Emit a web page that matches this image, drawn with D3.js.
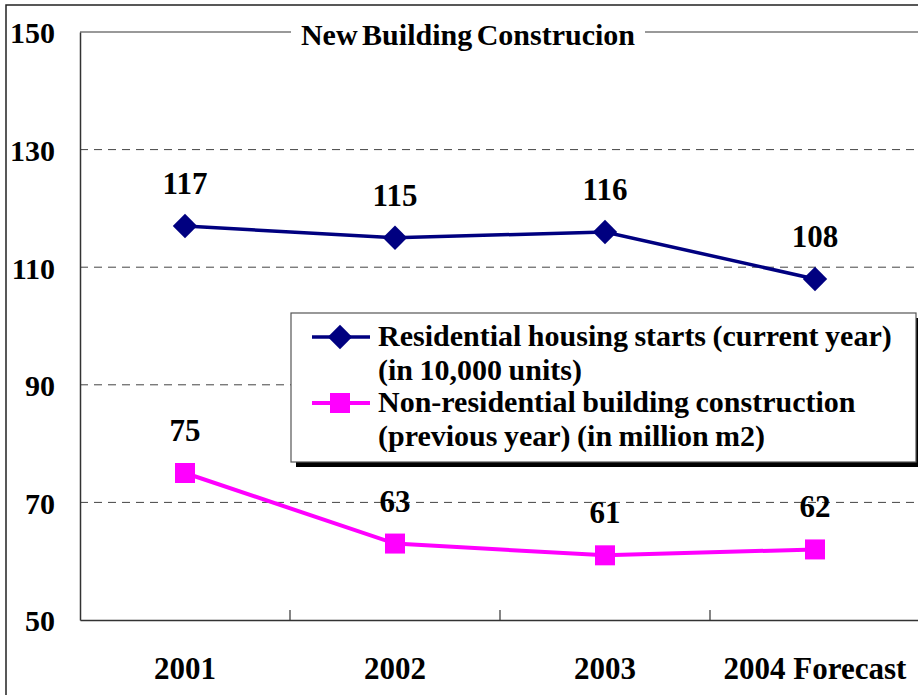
<!DOCTYPE html>
<html>
<head>
<meta charset="utf-8">
<script src="https://cdn.jsdelivr.net/npm/d3@7"></script>
<style>
  body { margin: 0; background: #fff; }
  svg text { font-family: "Liberation Serif", "DejaVu Serif", serif !important; font-weight: bold; fill: #000; }
</style>
</head>
<body>
<div id="chart"></div>
<script>
// data
var categories = ["2001", "2002", "2003", "2004 Forecast"];
var residential = [117, 115, 116, 108];
var nonResidential = [75, 63, 61, 62];
var yTicks = [50, 70, 90, 110, 130, 150];
var seriesNames = [
  ["Residential housing starts (current year)", "(in 10,000 units)"],
  ["Non-residential building construction", "(previous year) (in million m2)"]
];

var svgWidth = 918;
var svgHeight = 695;

var margin = { top: 32, right: -2, bottom: 75, left: 80 };
var width = svgWidth - margin.left - margin.right;
var height = svgHeight - margin.top - margin.bottom;

var svg = d3.select("#chart")
  .append("svg")
  .attr("width", svgWidth)
  .attr("height", svgHeight);

// outer frame
svg.append("rect")
  .attr("x", 6).attr("y", 5)
  .attr("width", 940).attr("height", 720)
  .attr("fill", "none")
  .attr("stroke", "#222")
  .attr("stroke-width", 1.5);

var chartGroup = svg.append("g")
  .attr("transform", `translate(${margin.left}, ${margin.top})`);

var xScale = d3.scaleBand()
  .domain(categories)
  .range([0, width]);

var yScale = d3.scaleLinear()
  .domain([50, 150])
  .range([height, 0]);

// gridlines
chartGroup.selectAll(".grid")
  .data(yTicks.filter(d => d > 50 && d < 150))
  .enter()
  .append("line")
  .attr("x1", 0)
  .attr("x2", width)
  .attr("y1", d => yScale(d))
  .attr("y2", d => yScale(d))
  .attr("stroke", "#444")
  .attr("stroke-width", 1)
  .attr("stroke-dasharray", "8,6");

// top border of plot
chartGroup.append("line")
  .attr("x1", 0).attr("x2", width)
  .attr("y1", 0).attr("y2", 0)
  .attr("stroke", "#777")
  .attr("stroke-width", 1.5);

// left axis
var leftAxis = d3.axisLeft(yScale)
  .tickValues(yTicks)
  .tickSize(0)
  .tickPadding(25);

var yAxisG = chartGroup.append("g").call(leftAxis);
yAxisG.select(".domain").attr("stroke", "#333").attr("stroke-width", 1.5);
yAxisG.selectAll("text")
  .attr("font-size", "30px")
  .attr("dy", "0.36em");

// bottom axis
var bottomAxis = d3.axisBottom(xScale)
  .tickSize(0)
  .tickPadding(37);

var xAxisG = chartGroup.append("g")
  .attr("transform", `translate(0, ${height})`)
  .call(bottomAxis);
xAxisG.select(".domain").attr("stroke", "#333").attr("stroke-width", 1.5);
xAxisG.selectAll("text")
  .attr("font-size", "31px");

// category separators
chartGroup.selectAll(".sep")
  .data(categories.slice(1))
  .enter()
  .append("line")
  .attr("x1", d => xScale(d))
  .attr("x2", d => xScale(d))
  .attr("y1", height)
  .attr("y2", height - 10)
  .attr("stroke", "#333")
  .attr("stroke-width", 1.2);

var cx = (d, i) => xScale(categories[i]) + xScale.bandwidth() / 2;

var line = d3.line()
  .x((d, i) => cx(d, i))
  .y(d => yScale(d));

// residential series
chartGroup.append("path")
  .datum(residential)
  .attr("d", line)
  .attr("fill", "none")
  .attr("stroke", "#000080")
  .attr("stroke-width", 3.5);

var diamond = d3.symbol().type(d3.symbolDiamond2).size(380);

chartGroup.selectAll(".dia")
  .data(residential)
  .enter()
  .append("path")
  .attr("d", diamond)
  .attr("transform", (d, i) => `translate(${cx(d, i)}, ${yScale(d)})`)
  .attr("fill", "#000080");

chartGroup.selectAll(".reslbl")
  .data(residential)
  .enter()
  .append("text")
  .attr("x", (d, i) => cx(d, i))
  .attr("y", d => yScale(d) - 32)
  .attr("text-anchor", "middle")
  .attr("font-size", "31px")
  .text(d => d);

// non-residential series
chartGroup.append("path")
  .datum(nonResidential)
  .attr("d", line)
  .attr("fill", "none")
  .attr("stroke", "#FF00FF")
  .attr("stroke-width", 4);

chartGroup.selectAll(".sq")
  .data(nonResidential)
  .enter()
  .append("rect")
  .attr("x", (d, i) => cx(d, i) - 10)
  .attr("y", d => yScale(d) - 10)
  .attr("width", 20)
  .attr("height", 20)
  .attr("fill", "#FF00FF");

chartGroup.selectAll(".nrlbl")
  .data(nonResidential)
  .enter()
  .append("text")
  .attr("x", (d, i) => cx(d, i))
  .attr("y", d => yScale(d) - 32)
  .attr("text-anchor", "middle")
  .attr("font-size", "31px")
  .text(d => d);

// title with white background
var titleG = svg.append("g");
titleG.append("rect")
  .attr("x", 291).attr("y", 18)
  .attr("width", 354).attr("height", 30)
  .attr("fill", "#fff");
titleG.append("text")
  .attr("x", 468)
  .attr("y", 45)
  .attr("text-anchor", "middle")
  .attr("font-size", "30px")
  .attr("word-spacing", "-3px")
  .text("New Building Construcion");

// legend
var legend = svg.append("g").attr("transform", "translate(291, 313)");
legend.append("rect")
  .attr("x", 5).attr("y", 5)
  .attr("width", 625).attr("height", 149)
  .attr("fill", "#000");
legend.append("rect")
  .attr("x", 0).attr("y", 0)
  .attr("width", 625).attr("height", 149)
  .attr("fill", "#fff")
  .attr("stroke", "#555")
  .attr("stroke-width", 1.2);

var legendColors = ["#000080", "#FF00FF"];
var rowY = [24, 90];

legend.selectAll(".lgline")
  .data(legendColors)
  .enter()
  .append("line")
  .attr("x1", 21).attr("x2", 79)
  .attr("y1", (d, i) => rowY[i])
  .attr("y2", (d, i) => rowY[i])
  .attr("stroke", d => d)
  .attr("stroke-width", (d, i) => i === 0 ? 3.5 : 4);

legend.append("path")
  .attr("d", diamond)
  .attr("transform", `translate(49, ${rowY[0]})`)
  .attr("fill", legendColors[0]);

legend.append("rect")
  .attr("x", 39).attr("y", rowY[1] - 10)
  .attr("width", 20).attr("height", 20)
  .attr("fill", legendColors[1]);

seriesNames.forEach(function(lines, i) {
  lines.forEach(function(t, j) {
    legend.append("text")
      .attr("x", 87)
      .attr("y", rowY[i] + 9 + j * 34)
      .attr("font-size", "30px")
      .attr("word-spacing", "-1px")
      .text(t);
  });
});
</script>
</body>
</html>
